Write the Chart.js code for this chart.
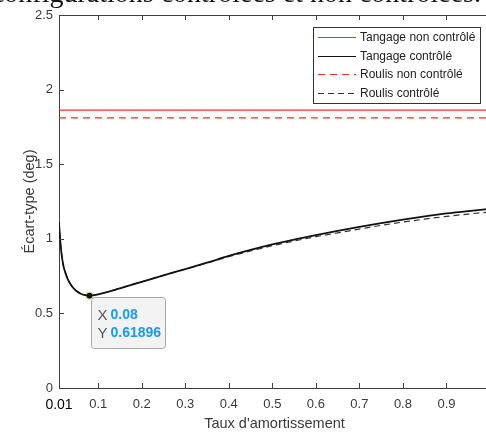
<!DOCTYPE html>
<html>
<head>
<meta charset="utf-8">
<script src="https://cdn.jsdelivr.net/npm/chart.js@4.4.1/dist/chart.umd.min.js"></script>
<style>
  html, body { margin: 0; padding: 0; background: #fff; overflow: hidden; width: 486px; height: 435px; }
  #wrap { position: relative; width: 505px; height: 435px; }
  #cap { position: absolute; right: 24px; top: -23px; font-family: 'Liberation Serif', serif; font-size: 28px; white-space: nowrap; color: #111; }
</style>
</head>
<body>
<div id="wrap">
  <canvas id="chart" width="505" height="435"></canvas>
  <div id="cap">configurations contrôlées et non contrôlées.</div>
</div>
<script>
// damping ratio samples
const dampX = [0.01, 0.012, 0.015, 0.02, 0.025, 0.03, 0.04, 0.05, 0.06, 0.07, 0.08, 0.1, 0.15, 0.2, 0.25, 0.3, 0.35,
               0.4, 0.45, 0.5, 0.55, 0.6, 0.65, 0.7, 0.75, 0.8, 0.85, 0.9, 0.95, 1.0];
const pitchCtrl = [1.11, 1.02, 0.92, 0.82, 0.77, 0.73, 0.68, 0.65, 0.632, 0.623, 0.619, 0.628, 0.668, 0.712, 0.755,
                   0.797, 0.84, 0.885, 0.925, 0.962, 0.995, 1.025, 1.053, 1.08, 1.105, 1.128, 1.15, 1.17, 1.186, 1.2];
const rollCtrl = [1.11, 1.02, 0.92, 0.82, 0.77, 0.73, 0.68, 0.65, 0.632, 0.623, 0.619, 0.628, 0.668, 0.712, 0.755,
                  0.796, 0.838, 0.88, 0.918, 0.954, 0.985, 1.014, 1.04, 1.065, 1.09, 1.112, 1.132, 1.15, 1.166, 1.18];
// uncontrolled: constant levels
const freeX = [0.01, 1.0];
const pitchFree = [1.863, 1.863];
const rollFree = [1.81, 1.81];

const seriesNames = ['Tangage non contrôlé', 'Tangage contrôlé', 'Roulis non contrôlé', 'Roulis contrôlé'];

const xTicks = [0.01, 0.1, 0.2, 0.3, 0.4, 0.5, 0.6, 0.7, 0.8, 0.9, 1.0];
const xTickLabels = ['0.01', '0.1', '0.2', '0.3', '0.4', '0.5', '0.6', '0.7', '0.8', '0.9', '1'];
const yTicks = [0, 0.5, 1, 1.5, 2, 2.5];
const yTickLabels = ['0', '0.5', '1', '1.5', '2', '2.5'];

// data tip
const tipX = 0.08;
const tipY = 0.61896;

const axisColor = '#404040';
const font = 'Liberation Sans';

function pts(xs, ys) {
    return xs.map((v, i) => ({ x: v, y: ys[i] }));
}

// inner ticks + top edge, MATLAB style
const axisDecor = {
    id: 'axisDecor',
    afterDraw(chart) {
        const { ctx, chartArea: a, scales: { x, y } } = chart;
        ctx.save();
        ctx.strokeStyle = axisColor;
        ctx.lineWidth = 1;
        ctx.beginPath();
        ctx.moveTo(a.left, a.top + 0.5);
        ctx.lineTo(a.right, a.top + 0.5);
        x.ticks.forEach(t => {
            const px = Math.round(x.getPixelForValue(t.value)) + 0.5;
            ctx.moveTo(px, a.bottom); ctx.lineTo(px, a.bottom - 5);
            ctx.moveTo(px, a.top); ctx.lineTo(px, a.top + 5);
        });
        y.ticks.forEach(t => {
            const py = Math.round(y.getPixelForValue(t.value)) + 0.5;
            ctx.moveTo(a.left, py); ctx.lineTo(a.left + 5, py);
        });
        ctx.stroke();
        ctx.restore();
    }
};

// boxed legend in the top right of the axes
const boxLegend = {
    id: 'boxLegend',
    afterDraw(chart) {
        const { ctx, chartArea: a } = chart;
        const w = 167, h = 76;
        const left = a.right - 10 - w, top = a.top + 12;
        ctx.save();
        ctx.fillStyle = '#fff';
        ctx.fillRect(left, top, w, h);
        ctx.strokeStyle = '#333';
        ctx.lineWidth = 1;
        ctx.strokeRect(left + 0.5, top + 0.5, w, h);
        ctx.font = '12px ' + font;
        ctx.textBaseline = 'middle';
        const sets = chart.data.datasets.filter(d => !d.hideInLegend);
        sets.forEach((d, i) => {
            const yy = Math.round(top + 10 + i * 18.5) + 0.5;
            ctx.strokeStyle = d.borderColor;
            ctx.lineWidth = 1;
            ctx.setLineDash(d.borderDash || []);
            ctx.beginPath();
            ctx.moveTo(left + 5, yy);
            ctx.lineTo(left + 43, yy);
            ctx.stroke();
            ctx.setLineDash([]);
            ctx.fillStyle = '#222';
            ctx.fillText(d.label, left + 47, yy);
        });
        ctx.restore();
    }
};

// data tip box next to the minimum
const dataTip = {
    id: 'dataTip',
    afterDraw(chart) {
        const { ctx, scales: { x, y } } = chart;
        const px = x.getPixelForValue(tipX), py = y.getPixelForValue(tipY);
        const left = Math.round(px + 2) + 0.5, top = Math.round(py + 1) + 0.5;
        const w = 74, h = 51;
        ctx.save();
        ctx.beginPath();
        ctx.roundRect(left, top, w, h, 3);
        ctx.fillStyle = '#f3f3f3';
        ctx.fill();
        ctx.strokeStyle = '#a6a6a6';
        ctx.lineWidth = 1;
        ctx.stroke();
        ctx.textBaseline = 'middle';
        ctx.font = '15px ' + font;
        ctx.fillStyle = '#555';
        ctx.fillText('X', left + 6, top + 18);
        ctx.fillText('Y', left + 6, top + 36);
        ctx.font = 'bold 14px ' + font;
        ctx.fillStyle = '#1a9af0';
        ctx.fillText(String(tipX), left + 19, top + 18);
        ctx.fillText(String(tipY), left + 19, top + 36);
        ctx.restore();
    }
};

const ctx = document.getElementById('chart').getContext('2d');
new Chart(ctx, {
    type: 'scatter',
    data: {
        datasets: [
            {
                label: seriesNames[0],
                data: pts(freeX, pitchFree),
                showLine: true,
                borderColor: '#ff2a2a',
                borderWidth: 1.3,
                pointRadius: 0
            },
            {
                label: seriesNames[1],
                data: pts(dampX, pitchCtrl),
                showLine: true,
                borderColor: '#111',
                borderWidth: 1.8,
                cubicInterpolationMode: 'monotone',
                pointRadius: 0
            },
            {
                label: seriesNames[2],
                data: pts(freeX, rollFree),
                showLine: true,
                borderColor: '#ff2a2a',
                borderWidth: 1.3,
                borderDash: [7, 5],
                pointRadius: 0
            },
            {
                label: seriesNames[3],
                data: pts(dampX, rollCtrl),
                showLine: true,
                borderColor: '#333',
                borderWidth: 1.2,
                borderDash: [6, 4],
                cubicInterpolationMode: 'monotone',
                pointRadius: 0
            },
            {
                label: 'tip',
                hideInLegend: true,
                data: [{ x: tipX, y: tipY }],
                pointRadius: 3.5,
                pointBackgroundColor: '#111',
                pointBorderColor: '#e9e2a0',
                pointBorderWidth: 1
            }
        ]
    },
    options: {
        responsive: false,
        animation: false,
        events: [],
        layout: { padding: { top: 15, right: 15, left: 0, bottom: 0 } },
        plugins: {
            legend: { display: false },
            tooltip: { enabled: false }
        },
        scales: {
            x: {
                type: 'linear',
                min: 0.01,
                max: 1.0,
                afterBuildTicks: s => { s.ticks = xTicks.map(v => ({ value: v })); },
                afterFit: s => { s.height = 47; },
                grid: { display: false, drawTicks: false },
                border: { display: true, color: axisColor, width: 1 },
                ticks: {
                    autoSkip: false,
                    maxRotation: 0,
                    padding: 9,
                    callback: (v, i) => xTickLabels[i],
                    color: c => c.index === 0 ? '#000' : '#3a3a3a',
                    font: c => ({ family: font, size: c.index === 0 ? 14 : 13 })
                },
                title: {
                    display: true,
                    text: "Taux d'amortissement",
                    color: '#3a3a3a',
                    font: { family: font, size: 14.5 },
                    padding: { top: 0, bottom: 2 }
                }
            },
            y: {
                min: 0,
                max: 2.5,
                afterBuildTicks: s => { s.ticks = yTicks.map(v => ({ value: v })); },
                afterFit: s => { s.width = 59; },
                grid: { display: false, drawTicks: false },
                border: { display: true, color: axisColor, width: 1 },
                ticks: {
                    padding: 6,
                    callback: (v, i) => yTickLabels[i],
                    color: '#3a3a3a',
                    font: { family: font, size: 13 }
                },
                title: {
                    display: true,
                    text: 'Écart-type (deg)',
                    color: '#3a3a3a',
                    font: { family: font, size: 14.5 },
                    padding: { top: 21, bottom: 0 }
                }
            }
        }
    },
    plugins: [axisDecor, boxLegend, dataTip]
});
</script>
</body>
</html>
